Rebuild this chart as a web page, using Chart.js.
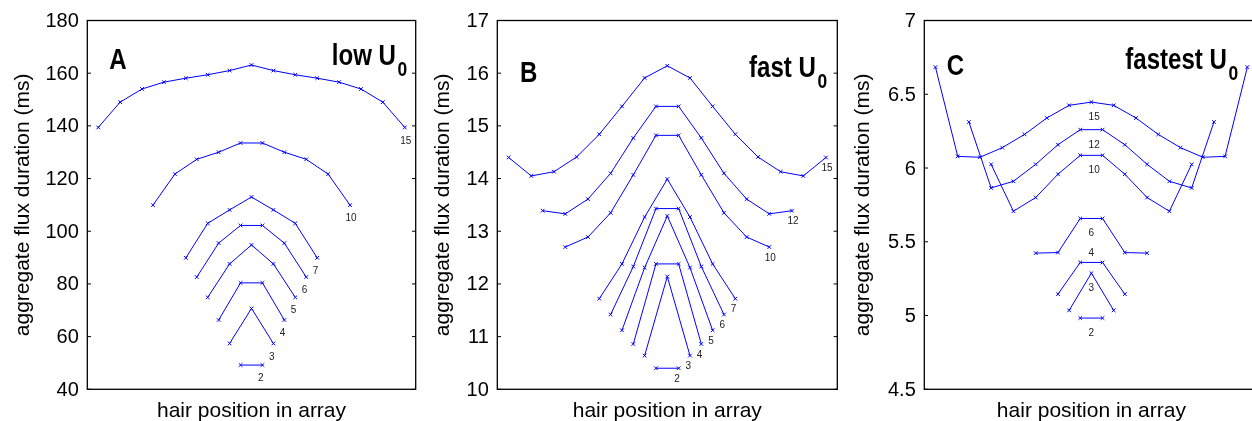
<!DOCTYPE html>
<html><head><meta charset="utf-8">
<script src="https://cdn.jsdelivr.net/npm/chart.js@4.4.1/dist/chart.umd.min.js"></script>
<style>
html,body{margin:0;padding:0;width:1252px;height:421px;overflow:hidden;background:#fff}
.p{position:absolute;top:0;width:420px;height:440px}
</style></head><body>
<div class="p" style="left:0px"><canvas id="cA" width="420" height="440"></canvas></div>
<div class="p" style="left:420px"><canvas id="cB" width="420" height="440"></canvas></div>
<div class="p" style="left:840px"><canvas id="cC" width="420" height="440"></canvas></div>
<script>
// ---------- DATA ----------
const xTitle = 'hair position in array';
const yTitle = 'aggregate flux duration (ms)';
const centerHair = 8;   // middle of a 15-hair array

// Panel A: low U0
const yTicksA = [40, 60, 80, 100, 120, 140, 160, 180];
const namesA = ['15', '10', '7', '6', '5', '4', '3', '2'];
const A15 = [139.4, 149.0, 154.0, 156.6, 158.1, 159.4, 161.0, 163.1, 161.0, 159.4, 158.1, 156.6, 154.0, 149.0, 139.4];
const A10 = [109.9, 121.7, 127.3, 130.0, 133.5, 133.5, 130.0, 127.3, 121.7, 109.9];
const A7 = [89.9, 103.0, 108.1, 113.0, 108.1, 103.0, 89.9];
const A6 = [82.6, 95.5, 102.2, 102.2, 95.5, 82.6];
const A5 = [74.9, 87.6, 94.8, 87.6, 74.9];
const A4 = [66.3, 80.4, 80.4, 66.3];
const A3 = [57.4, 70.7, 57.4];
const A2 = [49.2, 49.2];

// Panel B: fast U0
const yTicksB = [10, 11, 12, 13, 14, 15, 16, 17];
const namesB = ['15', '12', '10', '7', '6', '5', '4', '3', '2'];
const B15 = [14.40, 14.05, 14.13, 14.41, 14.84, 15.37, 15.91, 16.14, 15.91, 15.37, 14.84, 14.41, 14.13, 14.05, 14.40];
const B12 = [13.39, 13.33, 13.61, 14.10, 14.77, 15.37, 15.37, 14.77, 14.10, 13.61, 13.33, 13.39];
const B10 = [12.70, 12.89, 13.35, 14.07, 14.82, 14.82, 14.07, 13.35, 12.89, 12.70];
const B7 = [11.72, 12.38, 13.27, 13.99, 13.27, 12.38, 11.72];
const B6 = [11.42, 12.33, 13.43, 13.43, 12.33, 11.42];
const B5 = [11.12, 12.31, 13.29, 12.31, 11.12];
const B4 = [10.86, 12.38, 12.38, 10.86];
const B3 = [10.64, 12.14, 10.64];
const B2 = [10.40, 10.40];

// Panel C: fastest U0
const yTicksC = [4.5, 5, 5.5, 6, 6.5, 7];
const namesC = ['15', '12', '10', '6', '4', '3', '2'];
const C15 = [6.684, 6.079, 6.073, 6.138, 6.228, 6.339, 6.425, 6.447, 6.425, 6.339, 6.228, 6.138, 6.073, 6.079, 6.684];
const C12 = [6.312, 5.865, 5.910, 6.025, 6.158, 6.260, 6.260, 6.158, 6.025, 5.910, 5.865, 6.312];
const C10 = [6.025, 5.707, 5.800, 5.958, 6.086, 6.086, 5.958, 5.800, 5.707, 6.025];
const C6 = [5.423, 5.427, 5.658, 5.658, 5.427, 5.423];
const C4 = [5.145, 5.360, 5.360, 5.145];
const C3 = [5.035, 5.287, 5.035];
const C2 = [4.983, 4.983];

// ---------- STYLE / LAYOUT ----------
const FONT = "'Liberation Sans', Arial, Helvetica, sans-serif";
const BLUE = '#0000ff';
const CANVAS_W = 420, CANVAS_H = 440, AREA_TOP = 19.8, AREA_BOTTOM = 389.3;

const panels = [
  {id: 'cA', series: [A15, A10, A7, A6, A5, A4, A3, A2], names: namesA, ticks: yTicksA,
   left: 87.3, right: 415.7, letter: 'A', title: 'low U', sub: '0',
   letterX: 22, letterBase: 48.5, titleRight: 8.4, titleBase: 44.5,
   labelMode: 'end', labelDx: -4.5, labelDy: 13.3, labelDyOverride: {}},
  {id: 'cB', series: [B15, B12, B10, B7, B6, B5, B4, B3, B2], names: namesB, ticks: yTicksB,
   left: 77.3, right: 417.3, letter: 'B', title: 'fast U', sub: '0',
   letterX: 22.7, letterBase: 61.7, titleRight: 10, titleBase: 56.2,
   labelMode: 'end', labelDx: -4.5, labelDy: 11, labelDyOverride: {}},
  {id: 'cC', series: [C15, C12, C10, C6, C4, C3, C2], names: namesC, ticks: yTicksC,
   left: 84.3, right: 418.5, letter: 'C', title: 'fastest U', sub: '0',
   letterX: 22.4, letterBase: 54.2, titleRight: 20.2, titleBase: 48.5,
   labelMode: 'center', labelDx: -2.8, labelDy: 15.2, labelDyOverride: {'4': -9}}
];

function toPoints(arr) {
  const start = centerHair - (arr.length - 1) / 2;
  return arr.map((v, i) => ({x: start + i, y: v}));
}

const framePlugin = {
  id: 'frameAndLabels',
  afterDatasetsDraw(chart, args, o) {
    const {ctx, chartArea: a, scales: {y}} = chart;
    ctx.save();
    // box
    ctx.strokeStyle = '#000';
    ctx.lineWidth = 1.3;
    ctx.strokeRect(a.left, a.top, a.right - a.left, a.bottom - a.top);
    // inward ticks on both sides
    ctx.lineWidth = 1;
    y.ticks.forEach(t => {
      const py = y.getPixelForValue(t.value);
      ctx.beginPath();
      ctx.moveTo(a.left, py); ctx.lineTo(a.left + 3.7, py);
      ctx.moveTo(a.right, py); ctx.lineTo(a.right - 3.7, py);
      ctx.stroke();
    });
    // series labels
    ctx.fillStyle = '#222';
    ctx.font = '10px ' + FONT;
    ctx.textAlign = 'left';
    ctx.textBaseline = 'middle';
    chart.data.datasets.forEach((ds, i) => {
      const pts = chart.getDatasetMeta(i).data;
      const name = ds.label;
      let px, py;
      if (o.labelMode === 'end') {
        const p = pts[pts.length - 1];
        px = p.x; py = p.y;
      } else {
        const n = pts.length;
        px = (pts[0].x + pts[n - 1].x) / 2;
        py = n % 2 ? pts[(n - 1) / 2].y : (pts[n / 2 - 1].y + pts[n / 2].y) / 2;
      }
      const dy = (name in o.labelDyOverride) ? o.labelDyOverride[name] : o.labelDy;
      ctx.fillText(name, px + o.labelDx, py + dy);
    });
    // panel letter and title (narrow bold)
    const sx = 0.83;
    ctx.fillStyle = '#000';
    ctx.textBaseline = 'alphabetic';
    ctx.font = 'bold 29px ' + FONT;
    ctx.save();
    ctx.translate(a.left + o.letterX, a.top + o.letterBase);
    ctx.scale(sx, 1);
    ctx.fillText(o.letter, 0, 0);
    ctx.restore();
    const wMain = ctx.measureText(o.title).width;
    ctx.font = 'bold 21px ' + FONT;
    const wSub = ctx.measureText(o.sub).width;
    const total = (wMain + 2 + wSub) * sx;
    ctx.save();
    ctx.translate(a.right - o.titleRight - total, a.top + o.titleBase);
    ctx.scale(sx, 1);
    ctx.font = 'bold 29px ' + FONT;
    ctx.fillText(o.title, 0, 0);
    ctx.font = 'bold 21px ' + FONT;
    ctx.fillText(o.sub, wMain + 2, 11);
    ctx.restore();
    ctx.restore();
  }
};

panels.forEach(P => {
  const datasets = P.series.map((arr, i) => ({
    label: P.names[i],
    data: toPoints(arr),
    borderColor: BLUE,
    borderWidth: 1,
    pointStyle: 'crossRot',
    pointRadius: 2.6,
    pointBorderWidth: 1,
    pointBorderColor: BLUE,
    pointBackgroundColor: BLUE,
    tension: 0,
    fill: false
  }));
  new Chart(document.getElementById(P.id), {
    type: 'line',
    data: {datasets},
    plugins: [framePlugin],
    options: {
      responsive: false,
      animation: false,
      events: [],
      layout: {autoPadding: false, padding: {left: 0, top: AREA_TOP, right: CANVAS_W - P.right, bottom: 0}},
      plugins: {legend: {display: false}, tooltip: {enabled: false}, frameAndLabels: P},
      scales: {
        x: {
          type: 'linear', min: 0.5, max: 15.5,
          grid: {display: false, drawTicks: false},
          border: {display: false},
          ticks: {display: false},
          title: {display: true, text: xTitle, color: '#000',
                  font: {family: FONT, size: 21}, padding: {top: 0, bottom: 16.1}},
          afterFit: s => { s.height = CANVAS_H - AREA_BOTTOM; }
        },
        y: {
          type: 'linear',
          min: P.ticks[0], max: P.ticks[P.ticks.length - 1],
          grid: {display: false, drawTicks: false},
          border: {display: false},
          afterBuildTicks: s => { s.ticks = P.ticks.map(v => ({value: v})); },
          ticks: {color: '#000', font: {family: FONT, size: 20}, padding: 8.5, labelOffset: 1,
                  autoSkip: false, callback: v => String(v)},
          title: {display: true, text: yTitle, color: '#000',
                  font: {family: FONT, size: 21}, padding: {top: 10.4, bottom: 0}},
          afterFit: s => { s.width = P.left; }
        }
      }
    }
  });
});
</script>
</body></html>
